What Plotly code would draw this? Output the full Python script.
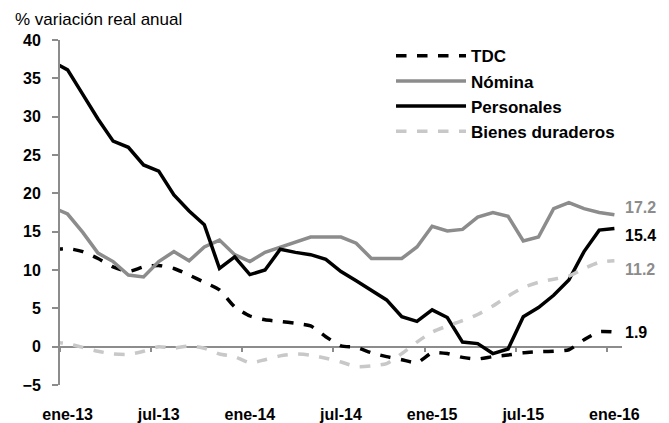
import plotly.graph_objects as go

# monthly, dic-12 .. ene-16 (first point sits just left of the y axis, as in the source)
months = ['dic-12', 'ene-13', 'feb-13', 'mar-13', 'abr-13', 'may-13', 'jun-13', 'jul-13', 'ago-13',
          'sep-13', 'oct-13', 'nov-13', 'dic-13', 'ene-14', 'feb-14', 'mar-14', 'abr-14', 'may-14',
          'jun-14', 'jul-14', 'ago-14', 'sep-14', 'oct-14', 'nov-14', 'dic-14', 'ene-15', 'feb-15',
          'mar-15', 'abr-15', 'may-15', 'jun-15', 'jul-15', 'ago-15', 'sep-15', 'oct-15', 'nov-15',
          'dic-15', 'ene-16']

tdc = [12.6, 12.8, 12.4, 11.5, 10.4, 9.8, 10.4, 10.6, 10.2, 9.35, 8.4, 7.4, 5.2, 4.0, 3.5, 3.3,
       3.05, 2.7, 1.3, 0.1, -0.1, -0.8, -1.3, -1.7, -2.1, -0.8, -0.9, -1.4, -1.6, -1.3, -1.1, -0.8,
       -0.65, -0.6, -0.4, 0.9, 1.95, 1.9]
nomina = [18.2, 17.3, 14.9, 12.2, 11.1, 9.35, 9.1, 11.1, 12.4, 11.2, 13.0, 13.9, 12.0, 11.1, 12.3,
          13.0, 13.6, 14.3, 14.3, 14.3, 13.5, 11.5, 11.5, 11.5, 13.0, 15.7, 15.1, 15.3, 16.9, 17.5,
          17.0, 13.8, 14.3, 18.0, 18.8, 18.0, 17.5, 17.2]
personales = [37.2, 36.1, 32.9, 29.7, 26.8, 26.0, 23.7, 22.9, 19.8, 17.7, 15.9, 10.2, 11.7, 9.4,
              10.0, 12.7, 12.3, 12.0, 11.4, 9.8, 8.6, 7.3, 6.1, 3.9, 3.3, 4.8, 3.8, 0.6, 0.4, -0.9,
              -0.3, 3.9, 5.1, 6.7, 8.7, 12.4, 15.2, 15.4]
bienes = [0.6, 0.4, -0.1, -0.6, -0.95, -1.0, -0.6, 0.0, -0.2, 0.1, -0.2, -0.95, -1.3, -2.1, -1.7,
          -1.2, -0.95, -1.1, -1.5, -2.0, -2.6, -2.5, -2.2, -0.9, 0.6, 1.9, 2.7, 3.4, 4.2, 5.3, 6.6,
          7.7, 8.4, 8.8, 9.2, 10.2, 11.0, 11.2]

tick_labels = ['ene-13', 'jul-13', 'ene-14', 'jul-14', 'ene-15', 'jul-15', 'ene-16']

COLORS = {
    'tdc': '#000000',
    'nomina': '#8c8c8c',
    'personales': '#000000',
    'bienes': '#c8c8c8',
    'axis': '#8c8c8c',
}
FONT = 'Liberation Sans, Arial, sans-serif'

idx = list(range(len(months)))
label_pos = [months.index(m) for m in tick_labels]
boundaries = [p - 0.5 for p in label_pos]
xrange = [0.5, len(months) - 0.5]
yrange = [-5, 40]

fig = go.Figure()

series = [
    ('TDC', tdc, dict(color=COLORS['tdc'], width=3.5, dash='dash'), 'spline'),
    ('Nómina', nomina, dict(color=COLORS['nomina'], width=3.5), 'linear'),
    ('Personales', personales, dict(color=COLORS['personales'], width=3.5), 'linear'),
    ('Bienes duraderos', bienes, dict(color=COLORS['bienes'], width=3.5, dash='dash'), 'spline'),
]
for name, vals, line, shape in series:
    line = dict(line, shape=shape)
    if shape == 'spline':
        line['smoothing'] = 0.6
    fig.add_trace(go.Scatter(x=idx, y=vals, mode='lines', name=name, line=line))

# helper axis sitting on y=0: carries the axis line and the tick marks
fig.add_trace(go.Scatter(x=[], y=[], xaxis='x2', showlegend=False, hoverinfo='skip'))

# end-of-series value labels
end_labels = [
    (nomina, COLORS['nomina'], 7),
    (personales, '#000000', -7),
    (bienes, COLORS['nomina'], -9),
    (tdc, '#000000', 0),
]
for vals, col, ysh in end_labels:
    fig.add_annotation(x=idx[-1], y=vals[-1], text=f"<b>{vals[-1]:.1f}</b>", showarrow=False,
                       xanchor='left', xshift=9, yshift=ysh,
                       font=dict(family=FONT, size=16, color=col))

fig.add_annotation(xref='paper', yref='paper', x=-0.084, y=1.058, xanchor='left', yanchor='middle',
                   text='% variación real anual', showarrow=False,
                   font=dict(family=FONT, size=17, color='#000000'))

zero_pos = (0 - yrange[0]) / (yrange[1] - yrange[0])

# page body adds an 8px offset, margins are set to compensate
fig.update_layout(
    width=669, height=423,
    margin=dict(l=52, r=55, t=32, b=46, autoexpand=False),
    plot_bgcolor='white', paper_bgcolor='white',
    font=dict(family=FONT, size=16, color='#000000'),
    showlegend=True,
    legend=dict(x=0.589, y=1.005, xanchor='left', yanchor='top', bgcolor='rgba(0,0,0,0)',
                font=dict(family=FONT, size=17, color='#000000', weight='bold'),
                tracegroupgap=0, itemwidth=70),
    xaxis=dict(range=xrange, tickmode='array', tickvals=label_pos, ticktext=tick_labels,
               showline=False, showgrid=False, zeroline=False, automargin=False,
               ticks='outside', ticklen=15, tickcolor='rgba(0,0,0,0)',
               tickfont=dict(family=FONT, size=16, weight='bold')),
    xaxis2=dict(range=xrange, overlaying='x', anchor='free', position=zero_pos, side='bottom',
                showline=True, linecolor=COLORS['axis'], linewidth=1.5, automargin=False,
                tickmode='array', tickvals=boundaries, ticks='outside', ticklen=5,
                tickcolor=COLORS['axis'], tickwidth=1.5, showticklabels=False,
                showgrid=False, zeroline=False, layer='below traces'),
    yaxis=dict(range=yrange, tickmode='array', tickvals=list(range(-5, 41, 5)),
               showline=True, linecolor=COLORS['axis'], linewidth=2, automargin=False,
               ticks='outside', ticklen=6, tickcolor=COLORS['axis'], tickwidth=1.5,
               showgrid=False, zeroline=False, ticklabelstandoff=8,
               tickfont=dict(family=FONT, size=16, weight='bold')),
)

fig.write_html("out.html")
